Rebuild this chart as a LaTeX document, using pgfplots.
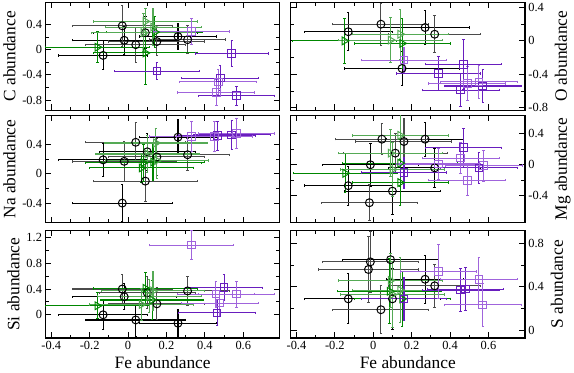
\documentclass[border=0pt]{standalone}
\usepackage{fontspec}
\setmainfont{Liberation Serif}
\usepackage{pgfplots}
\pgfplotsset{compat=1.18}

\definecolor{pdark}{RGB}{105,30,190}
\definecolor{plight}{RGB}{160,100,220}
\definecolor{gdark}{RGB}{0,135,0}
\definecolor{glight}{RGB}{85,170,85}
\definecolor{kgray}{RGB}{75,75,75}

\pgfplotsset{
  panel/.style={
    scale only axis, width=236pt, height=108.5pt, anchor=south west,
    xmin=-0.43, xmax=0.79, xtick={-0.4,-0.2,0,0.2,0.4,0.6},
    minor x tick num=1, minor y tick num=1,
    tick align=inside, xtick pos=both, ytick pos=both,
    major tick length=6pt, minor tick length=3.5pt,
    axis line style={line width=1.2pt},
    every tick/.style={black, line width=0.9pt},
    ticklabel style={font=\rmfamily\fontsize{12.5}{14}\selectfont},
    label style={font=\rmfamily\fontsize{17.5}{20}\selectfont},
    /pgf/number format/assume math mode=true,
    yticklabel style={/pgf/number format/fixed},
  },
  rightcol/.style={panel, yticklabel pos=right},
  errs/.style={only marks, line width=1pt, solid,
    error bars/x dir=both, error bars/x explicit,
    error bars/y dir=both, error bars/y explicit,
    error bars/error bar style={line width=1.1pt, solid},
    error bars/error mark options={rotate=90, mark size=1.2pt, line width=1pt}},
  blk/.style={errs, mark=o, mark size=4pt, color=black},
  blkl/.style={errs, mark=o, mark size=4pt, color=kgray, mark options={draw=black}},
  grn/.style={errs, mark=triangle, mark size=4.5pt, mark options={rotate=-90, solid}, color=gdark},
  grnl/.style={errs, mark=triangle, mark size=4.5pt, mark options={rotate=-90, solid}, color=glight},
  pur/.style={errs, mark=square, mark size=3.8pt, color=pdark},
  purl/.style={errs, mark=square, mark size=3.8pt, color=plight},
}

\begin{document}
\begin{tikzpicture}
\path (0pt,0pt) rectangle (574pt,372pt);

% ---- C
\begin{axis}[panel, at={(44pt,261.5pt)}, ymin=-0.96, ymax=0.75,
  ytick={-0.8,-0.4,0,0.4}, xticklabels={}, ylabel={C abundance}]
\addplot[blk] coordinates {(-0.13,-0.09) +- (0.23,0.23) (-0.02,0.15) +- (0.27,0.22) (0.09,0.27) +- (0.27,0.25) (0.26,0.21) +- (0.2,0.2)};
\addplot[blkl] coordinates {(-0.03,0.38) +- (0.26,0.33) (0.04,0.08) +- (0.26,0.28) (0.15,0.13) +- (0.25,0.22) (0.31,0.16) +- (0.2,0.22)};
\addplot[grn] coordinates {(-0.16,0.04) +- (0.27,0.25) (0.09,-0.05) +- (0.27,0.5) (0.14,0.28) +- (0.25,0.25)};
\addplot[grnl] coordinates {(0.08,0.27) +- (0.27,0.3) (0.13,0.36) +- (0.25,0.3) (0.09,0.45) +- (0.27,0.2)};
\addplot[pur] coordinates {(0.15,-0.34) +- (0.22,0.13) (0.54,-0.06) +- (0.19,0.2) (0.48,-0.45) +- (0.2,0.2) (0.565,-0.73) +- (0.2,0.15)};
\addplot[purl] coordinates {(0.33,0.29) +- (0.2,0.2) (0.47,-0.51) +- (0.2,0.2) (0.46,-0.68) +- (0.2,0.2)};
\end{axis}

% ---- O
\begin{axis}[rightcol, at={(291pt,261.5pt)}, ymin=-0.83, ymax=0.46,
  ytick={-0.8,-0.4,0,0.4}, xticklabels={}, ylabel={O abundance}]
\addplot[blk] coordinates {(-0.13,0.11) +- (0.23,0.23) (0.27,0.16) +- (0.23,0.2) (0.15,-0.33) +- (0.3,0.2)};
\addplot[blkl] coordinates {(0.04,0.2) +- (0.25,0.25) (0.32,0.08) +- (0.24,0.22)};
\addplot[grn] coordinates {(-0.15,0.0) +- (0.27,0.27) (0.15,-0.03) +- (0.25,0.3)};
\addplot[grnl] coordinates {(0.09,0.01) +- (0.27,0.27) (0.14,0.08) +- (0.25,0.3)};
\addplot[pur] coordinates {(0.34,-0.39) +- (0.22,0.2) (0.47,-0.28) +- (0.2,0.3) (0.455,-0.59) +- (0.2,0.2) (0.57,-0.54) +- (0.2,0.2)};
\addplot[purl] coordinates {(0.16,-0.23) +- (0.22,0.15) (0.49,-0.51) +- (0.2,0.2) (0.55,-0.49) +- (0.2,0.2)};
\end{axis}

% ---- Na
\begin{axis}[panel, at={(44pt,148pt)}, ymin=-0.67, ymax=0.8,
  ytick={-0.4,0,0.4}, xticklabels={}, ylabel={Na abundance}]
\addplot[blk] coordinates {(-0.13,0.19) +- (0.23,0.23) (-0.03,-0.4) +- (0.26,0.25) (0.1,0.3) +- (0.25,0.25) (0.26,0.5) +- (0.2,0.24)};
\addplot[blkl] coordinates {(-0.02,0.17) +- (0.27,0.27) (0.04,0.43) +- (0.26,0.27) (0.09,-0.1) +- (0.27,0.28) (0.15,0.23) +- (0.25,0.25) (0.31,0.26) +- (0.22,0.22)};
\addplot[grn] coordinates {(0.07,0.08) +- (0.27,0.2) (0.13,0.16) +- (0.27,0.25) (0.08,0.15) +- (0.3,0.25)};
\addplot[grnl] coordinates {(0.145,0.42) +- (0.27,0.2) (0.1,0.27) +- (0.27,0.25) (0.15,0.18) +- (0.27,0.25)};
\addplot[pur] coordinates {(0.465,0.52) +- (0.2,0.2) (0.54,0.53) +- (0.2,0.2)};
\addplot[purl] coordinates {(0.33,0.51) +- (0.22,0.2) (0.45,0.51) +- (0.2,0.2) (0.565,0.55) +- (0.2,0.2)};
\end{axis}

% ---- Mg
\begin{axis}[rightcol, at={(291pt,148pt)}, ymin=-0.75, ymax=0.64,
  ytick={-0.4,0,0.4}, xticklabels={}, ylabel={Mg abundance}]
\addplot[blk] coordinates {(-0.13,-0.27) +- (0.23,0.25) (-0.015,0.0) +- (0.25,0.28) (0.1,-0.34) +- (0.25,0.3) (0.27,0.33) +- (0.2,0.22) (0.32,-0.04) +- (0.24,0.25)};
\addplot[blkl] coordinates {(-0.02,-0.49) +- (0.25,0.23) (0.045,0.33) +- (0.24,0.2) (0.115,0.15) +- (0.27,0.25) (0.16,0.3) +- (0.25,0.3)};
\addplot[grn] coordinates {(-0.146,-0.11) +- (0.27,0.25) (0.14,0.02) +- (0.3,0.3) (0.14,-0.23) +- (0.25,0.3)};
\addplot[grnl] coordinates {(0.09,0.15) +- (0.27,0.3) (0.14,0.38) +- (0.25,0.3) (0.1,-0.06) +- (0.27,0.35)};
\addplot[pur] coordinates {(0.16,-0.1) +- (0.22,0.2) (0.47,0.22) +- (0.2,0.25) (0.55,-0.04) +- (0.2,0.2)};
\addplot[purl] coordinates {(0.34,0.01) +- (0.22,0.2) (0.455,0.085) +- (0.2,0.2) (0.575,-0.01) +- (0.2,0.2) (0.49,-0.2) +- (0.2,0.2)};
\end{axis}

% ---- Si
\begin{axis}[panel, at={(44pt,32pt)}, ymin=-0.36, ymax=1.31,
  ytick={0,0.4,0.8,1.2}, ylabel={Si abundance}, xlabel={Fe abundance}]
\addplot[blk] coordinates {(-0.13,0.0) +- (0.23,0.23) (-0.02,0.28) +- (0.27,0.2) (0.04,-0.08) +- (0.26,0.25) (0.26,-0.13) +- (0.2,0.22)};
\addplot[blkl] coordinates {(-0.03,0.4) +- (0.26,0.23) (0.1,0.34) +- (0.25,0.25) (0.15,0.17) +- (0.25,0.25) (0.31,0.37) +- (0.22,0.22)};
\addplot[grn] coordinates {(-0.16,0.14) +- (0.27,0.2) (0.09,0.41) +- (0.27,0.25) (0.125,0.23) +- (0.27,0.3)};
\addplot[grnl] coordinates {(0.07,0.16) +- (0.27,0.25) (0.11,0.29) +- (0.27,0.25) (0.13,0.37) +- (0.27,0.3)};
\addplot[pur] coordinates {(0.5,0.42) +- (0.2,0.2) (0.464,0.03) +- (0.2,0.2)};
\addplot[purl] coordinates {(0.33,1.08) +- (0.22,0.22) (0.457,0.32) +- (0.2,0.2) (0.478,0.18) +- (0.2,0.2) (0.565,0.32) +- (0.2,0.2)};
\end{axis}

% ---- S
\begin{axis}[rightcol, at={(291pt,32pt)}, ymin=-0.07, ymax=0.92,
  ytick={0,0.4,0.8}, ylabel={S abundance}, xlabel={Fe abundance}]
\addplot[blk] coordinates {(-0.13,0.29) +- (0.23,0.23) (0.09,0.65) +- (0.25,0.3) (0.27,0.47) +- (0.2,0.22) (0.1,0.29) +- (0.25,0.28)};
\addplot[blkl] coordinates {(-0.025,0.56) +- (0.26,0.3) (-0.015,0.63) +- (0.25,0.28) (0.04,0.19) +- (0.25,0.22) (0.32,0.41) +- (0.24,0.2)};
\addplot[grn] coordinates {(0.085,0.36) +- (0.27,0.3) (0.15,0.29) +- (0.25,0.25)};
\addplot[grnl] coordinates {(0.09,0.46) +- (0.27,0.25) (0.1,0.33) +- (0.27,0.3) (0.14,0.37) +- (0.25,0.3)};
\addplot[pur] coordinates {(0.16,0.29) +- (0.22,0.2) (0.455,0.37) +- (0.2,0.2) (0.48,0.38) +- (0.2,0.2)};
\addplot[purl] coordinates {(0.34,0.54) +- (0.2,0.25) (0.55,0.47) +- (0.2,0.2) (0.57,0.235) +- (0.2,0.2)};
\end{axis}
\end{tikzpicture}
\end{document}
